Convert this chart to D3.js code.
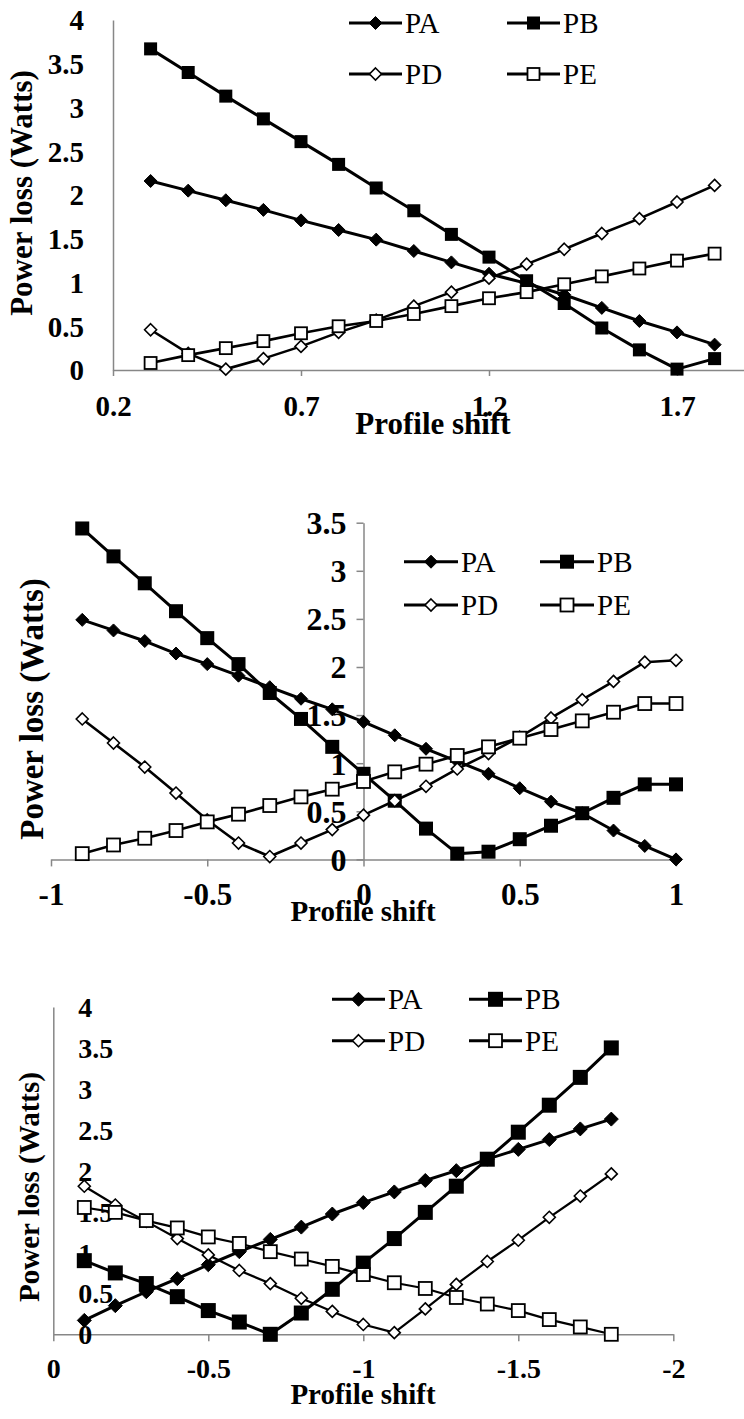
<!DOCTYPE html>
<html>
<head>
<meta charset="utf-8">
<script src="https://cdn.jsdelivr.net/npm/d3@7/dist/d3.min.js"></script>
<style>
  html, body { margin: 0; padding: 0; background: #fff; }
  svg { display: block; }
</style>
</head>
<body>
<svg id="chart" width="744" height="1419"></svg>
<script>
// ---------- DATA ----------
const seriesNames = ["PA", "PB", "PD", "PE"];

// Chart 1
const x1 = [0.3, 0.4, 0.5, 0.6, 0.7, 0.8, 0.9, 1.0, 1.1, 1.2, 1.3, 1.4, 1.5, 1.6, 1.7, 1.8];
const pa1 = [2.16, 2.05, 1.94, 1.83, 1.71, 1.60, 1.49, 1.36, 1.23, 1.10, 0.99, 0.86, 0.71, 0.56, 0.43, 0.29];
const pb1 = [3.67, 3.40, 3.13, 2.87, 2.61, 2.35, 2.08, 1.82, 1.55, 1.29, 1.02, 0.76, 0.48, 0.23, 0.01, 0.13];
const pd1 = [0.46, 0.19, 0.01, 0.13, 0.27, 0.43, 0.57, 0.73, 0.89, 1.05, 1.21, 1.38, 1.56, 1.73, 1.92, 2.11];
const pe1 = [0.08, 0.17, 0.25, 0.33, 0.42, 0.50, 0.56, 0.64, 0.73, 0.82, 0.89, 0.98, 1.07, 1.16, 1.25, 1.33];
const xTicks1 = [0.2, 0.7, 1.2, 1.7];
const yTicks1 = [0, 0.5, 1, 1.5, 2, 2.5, 3, 3.5, 4];

// Chart 2
const x2 = [-0.9, -0.8, -0.7, -0.6, -0.5, -0.4, -0.3, -0.2, -0.1, 0, 0.1, 0.2, 0.3, 0.4, 0.5, 0.6, 0.7, 0.8, 0.9, 1.0];
const pa2 = [2.49, 2.38, 2.27, 2.14, 2.03, 1.91, 1.79, 1.67, 1.56, 1.43, 1.29, 1.15, 1.02, 0.89, 0.74, 0.60, 0.48, 0.30, 0.14, 0.00];
const pb2 = [3.44, 3.15, 2.87, 2.58, 2.30, 2.03, 1.73, 1.46, 1.17, 0.89, 0.61, 0.32, 0.06, 0.08, 0.21, 0.35, 0.48, 0.64, 0.78, 0.78];
const pd2 = [1.46, 1.21, 0.96, 0.69, 0.41, 0.17, 0.03, 0.17, 0.31, 0.46, 0.61, 0.76, 0.94, 1.10, 1.27, 1.47, 1.66, 1.85, 2.05, 2.07];
const pe2 = [0.06, 0.15, 0.22, 0.30, 0.39, 0.47, 0.56, 0.65, 0.73, 0.81, 0.91, 0.99, 1.08, 1.17, 1.26, 1.35, 1.44, 1.53, 1.62, 1.62];
const xTicks2 = [-1, -0.5, 0, 0.5, 1];
const yTicks2 = [0, 0.5, 1, 1.5, 2, 2.5, 3, 3.5];

// Chart 3
const x3 = [-0.1, -0.2, -0.3, -0.4, -0.5, -0.6, -0.7, -0.8, -0.9, -1.0, -1.1, -1.2, -1.3, -1.4, -1.5, -1.6, -1.7, -1.8];
const pa3 = [0.17, 0.35, 0.52, 0.68, 0.85, 1.01, 1.16, 1.31, 1.47, 1.61, 1.74, 1.88, 2.00, 2.14, 2.26, 2.38, 2.51, 2.63];
const pb3 = [0.90, 0.75, 0.62, 0.46, 0.29, 0.15, 0.00, 0.26, 0.55, 0.87, 1.17, 1.49, 1.81, 2.14, 2.47, 2.80, 3.14, 3.50];
const pd3 = [1.81, 1.58, 1.38, 1.17, 0.97, 0.78, 0.62, 0.44, 0.28, 0.12, 0.02, 0.31, 0.61, 0.89, 1.15, 1.43, 1.69, 1.96];
const pe3 = [1.55, 1.49, 1.39, 1.30, 1.19, 1.11, 1.01, 0.92, 0.83, 0.73, 0.63, 0.56, 0.45, 0.37, 0.29, 0.18, 0.09, 0.00];
const xTicks3 = [0, -0.5, -1, -1.5, -2];
const yTicks3 = [0, 0.5, 1, 1.5, 2, 2.5, 3, 3.5, 4];

const xTitle = "Profile shift";
const yTitle = "Power loss (Watts)";

// ---------- DRAWING ----------
const FONT = "'Liberation Serif', 'Times New Roman', Times, serif";
const svg = d3.select("#chart");
svg.append("rect").attr("width", 744).attr("height", 1419).attr("fill", "#fff");

const AXIS = "#878787";

function diamondPath(r) { return `M0,${-r}L${r},0L0,${r}L${-r},0Z`; }

function styleText(sel, size, bold) {
  sel.attr("font-family", FONT).style("font-family", FONT)
    .style("font-size", size + "px").style("font-weight", bold ? "bold" : "normal").attr("fill", "#000");
}

function drawMarker(g, type, cx, cy, s) {
  if (type === "PA") {
    g.append("path").attr("d", diamondPath(s.dia)).attr("transform", `translate(${cx},${cy})`)
      .attr("fill", "#000").attr("stroke", "#000").attr("stroke-width", 1);
  } else if (type === "PB") {
    g.append("rect").attr("x", cx - s.sq).attr("y", cy - s.sq).attr("width", 2 * s.sq).attr("height", 2 * s.sq)
      .attr("fill", "#000");
  } else if (type === "PD") {
    g.append("path").attr("d", diamondPath(s.odia)).attr("transform", `translate(${cx},${cy})`)
      .attr("fill", "#fff").attr("stroke", "#000").attr("stroke-width", 1.6);
  } else {
    g.append("rect").attr("x", cx - s.osq).attr("y", cy - s.osq).attr("width", 2 * s.osq).attr("height", 2 * s.osq)
      .attr("fill", "#fff").attr("stroke", "#000").attr("stroke-width", 1.8);
  }
}

function drawChart(c) {
  const g = svg.append("g");
  const x = d3.scaleLinear().domain(c.xDomain).range(c.xRange);
  const y = d3.scaleLinear().domain(c.yDomain).range(c.yRange);
  const x0 = x(c.yAxisAt);
  const y0 = y(0);

  // x axis
  const xa = g.append("g").attr("transform", `translate(0,${y0})`)
    .call(d3.axisBottom(x).tickValues(c.xTicks).tickFormat(d => String(d)).tickSizeInner(c.xTickSize).tickSizeOuter(0));
  xa.attr("font-family", FONT);
  xa.select(".domain").attr("stroke", AXIS).attr("stroke-width", 1.5);
  xa.selectAll(".tick line").attr("stroke", AXIS).attr("stroke-width", 1.5);
  styleText(xa.selectAll(".tick text").attr("y", c.xLabelY).attr("dy", 0), c.xTickFont, true);

  // y axis
  let yAxis = c.yLabelsRight ? d3.axisRight(y) : d3.axisLeft(y);
  yAxis = yAxis.tickValues(c.yTicks).tickFormat(d => String(d)).tickSizeInner(c.yTickSize).tickSizeOuter(0).tickPadding(c.yPad);
  const ya = g.append("g").attr("transform", `translate(${x0},0)`).call(yAxis);
  ya.attr("font-family", FONT);
  ya.select(".domain").attr("stroke", AXIS).attr("stroke-width", 1.5);
  ya.selectAll(".tick line").attr("stroke", AXIS).attr("stroke-width", 1.5);
  styleText(ya.selectAll(".tick text").attr("dy", "0.34em"), c.yTickFont, true);

  // series
  const all = [c.pa, c.pb, c.pd, c.pe];
  const line = d3.line().x(d => x(d[0])).y(d => y(d[1]));
  all.forEach((vals, i) => {
    const pts = c.xs.map((xv, j) => [xv, vals[j]]);
    g.append("path").attr("d", line(pts)).attr("fill", "none").attr("stroke", "#000")
      .attr("stroke-width", i < 2 ? c.lw : c.lw2).attr("stroke-linejoin", "round");
    const mg = g.append("g");
    pts.forEach(p => drawMarker(mg, seriesNames[i], x(p[0]), y(p[1]), c.ms));
  });

  // axis titles
  styleText(g.append("text").attr("x", c.xTitleX).attr("y", c.xTitleY).attr("text-anchor", "middle").text(xTitle),
    c.xTitleFont, true);
  styleText(g.append("text").attr("transform", `translate(${c.yTitleX},${c.yTitleY}) rotate(-90)`)
    .attr("text-anchor", "middle").attr("dy", "0.33em").text(yTitle), c.yTitleFont, true);

  // legend
  const lg = g.append("g");
  seriesNames.forEach((name, i) => {
    const col = i % 2, row = Math.floor(i / 2);
    const lx = c.leg.cols[col], ly = c.leg.rows[row];
    lg.append("line").attr("x1", lx).attr("x2", lx + c.leg.len).attr("y1", ly).attr("y2", ly)
      .attr("stroke", "#000").attr("stroke-width", 3);
    drawMarker(lg, name, lx + c.leg.len / 2, ly, c.ms);
    styleText(lg.append("text").attr("x", lx + c.leg.len + 3).attr("y", ly).attr("dy", "0.35em").text(name),
      c.leg.font, false);
  });
}

drawChart({
  xs: x1, pa: pa1, pb: pb1, pd: pd1, pe: pe1,
  xDomain: [0.2, 2.2], xRange: [113, 865], yDomain: [0, 4], yRange: [370, 20], yAxisAt: 0.2,
  xTicks: xTicks1, yTicks: yTicks1, xTickSize: 6, yTickSize: 0, yPad: 29, yLabelsRight: false,
  xLabelY: 46, xTickFont: 29, yTickFont: 29,
  xTitleX: 433, xTitleY: 434, xTitleFont: 31,
  yTitleX: 22, yTitleY: 193, yTitleFont: 31,
  lw: 3, lw2: 2.6, ms: { dia: 6.5, sq: 6.5, odia: 6, osq: 6 },
  leg: { cols: [349, 507], rows: [23, 74], len: 53, font: 29 }
});

drawChart({
  xs: x2, pa: pa2, pb: pb2, pd: pd2, pe: pe2,
  xDomain: [-1, 1], xRange: [51, 676], yDomain: [0, 3.5], yRange: [859.4, 522.7], yAxisAt: 0,
  xTicks: xTicks2, yTicks: yTicks2, xTickSize: 7, yTickSize: 7, yPad: 10, yLabelsRight: false,
  xLabelY: 46, xTickFont: 31, yTickFont: 32,
  xTitleX: 363, xTitleY: 921, xTitleFont: 29,
  yTitleX: 32, yTitleY: 709, yTitleFont: 33,
  lw: 3, lw2: 2.6, ms: { dia: 6.5, sq: 7, odia: 6, osq: 6.5 },
  leg: { cols: [404, 540], rows: [561.7, 605], len: 54, font: 29 }
});

drawChart({
  xs: x3, pa: pa3, pb: pb3, pd: pd3, pe: pe3,
  xDomain: [0, -2], xRange: [53.3, 673.3], yDomain: [0, 4], yRange: [1334.3, 1007], yAxisAt: 0,
  xTicks: xTicks3, yTicks: yTicks3, xTickSize: 7, yTickSize: 0, yPad: 25, yLabelsRight: true,
  xLabelY: 44, xTickFont: 28, yTickFont: 28,
  xTitleX: 363, xTitleY: 1404, xTitleFont: 29,
  yTitleX: 29, yTitleY: 1187, yTitleFont: 29,
  lw: 3, lw2: 2.2, ms: { dia: 7, sq: 7.5, odia: 6, osq: 6.5 },
  leg: { cols: [332, 469], rows: [999.3, 1040.7], len: 53, font: 29 }
});
</script>
</body>
</html>
